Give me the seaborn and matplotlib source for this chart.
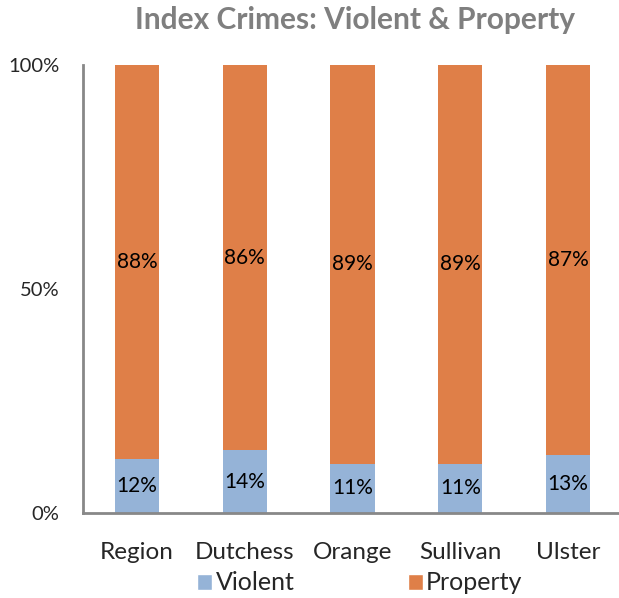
import matplotlib
matplotlib.use("Agg")
import matplotlib.pyplot as plt
import seaborn as sns
import pandas as pd
from matplotlib.patches import Patch

counties = ["Region", "Dutchess", "Orange", "Sullivan", "Ulster"]
violent = [12, 14, 11, 11, 13]
property_ = [88, 86, 89, 89, 87]
y_ticks = [0, 50, 100]
y_tick_labels = ["0%", "50%", "100%"]

blue = "#95B3D7"
orange = "#DF7F48"
axis_gray = "#888888"

sns.set_theme(style="white")
plt.rcParams["font.family"] = ["Lato", "DejaVu Sans"]

df = pd.DataFrame({"county": counties, "Violent": violent, "Property": property_})
df["total"] = df["Violent"] + df["Property"]

fig = plt.figure(figsize=(6.19, 5.98), dpi=100)
ax = fig.add_axes([83 / 619, 1 - 513 / 598, (622 - 83) / 619, (513 - 65) / 598])

# stacked bars: full stack in orange, violent share drawn over its base
sns.barplot(data=df, x="county", y="total", color=orange, width=0.41,
            saturation=1, ax=ax, linewidth=0)
sns.barplot(data=df, x="county", y="Violent", color=blue, width=0.41,
            saturation=1, ax=ax, linewidth=0)

for i, (v, p) in enumerate(zip(violent, property_)):
    ax.text(i, v / 2, f"{v}%", ha="center", va="center", fontsize=15, color="black")
    ax.text(i, v + p / 2, f"{p}%", ha="center", va="center", fontsize=15, color="black")

ax.set_xlim(-0.5, len(counties) - 0.5)
ax.set_ylim(0, 100)
ax.set_yticks(y_ticks)
ax.set_yticklabels(y_tick_labels, fontsize=14.5)
ax.set_xticks(range(len(counties)))
ax.set_xticklabels(counties, fontsize=17.5)
ax.set_xlabel("")
ax.set_ylabel("")

# category boundary tick marks on the x axis
ax.set_xticks([i - 0.5 for i in range(len(counties) + 1)], minor=True)
ax.tick_params(axis="x", which="major", length=0, pad=21)
ax.tick_params(axis="x", which="minor", length=6, width=1.5, color=axis_gray, direction="out")
ax.tick_params(axis="y", length=6, width=1.5, color=axis_gray, direction="out", pad=11)

for side in ["top", "right"]:
    ax.spines[side].set_visible(False)
for side in ["left", "bottom"]:
    ax.spines[side].set_color(axis_gray)
    ax.spines[side].set_linewidth(2)
ax.grid(False)

fig.text(355 / 619, 1 - 20 / 598, "Index Crimes: Violent & Property", ha="center", va="center",
         fontsize=21.5, fontweight="bold", color="#7F7F7F")

handles = [Patch(facecolor=blue, label="Violent"), Patch(facecolor=orange, label="Property")]
fig.legend(handles=handles, loc="center", bbox_to_anchor=(360 / 619, 1 - 583 / 598), ncol=2,
           frameon=False, fontsize=18, handlelength=0.6, handleheight=0.6,
           handletextpad=0.15, columnspacing=4.5)

fig.savefig("out.png", dpi=100)
